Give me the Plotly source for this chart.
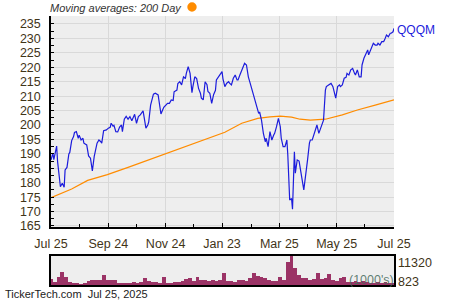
import plotly.graph_objects as go
import pandas as pd

price_dates = [
"2024-07-25","2024-07-27","2024-07-28","2024-07-31","2024-08-01","2024-08-04","2024-08-06","2024-08-08","2024-08-09","2024-08-11",
"2024-08-13","2024-08-14","2024-08-16","2024-08-18","2024-08-19","2024-08-21","2024-08-23","2024-08-24","2024-08-26","2024-08-28",
"2024-08-29","2024-09-01","2024-09-03","2024-09-05","2024-09-07","2024-09-09","2024-09-12","2024-09-14","2024-09-16","2024-09-17",
"2024-09-19","2024-09-22","2024-09-24","2024-09-26","2024-09-27","2024-09-29","2024-09-30","2024-10-02","2024-10-04","2024-10-06",
"2024-10-08","2024-10-09","2024-10-11","2024-10-13","2024-10-15","2024-10-17","2024-10-19","2024-10-21","2024-10-22","2024-10-24",
"2024-10-26","2024-10-28","2024-10-30","2024-10-31","2024-11-03","2024-11-05","2024-11-06","2024-11-08","2024-11-11","2024-11-13",
"2024-11-16","2024-11-17","2024-11-19","2024-11-22","2024-11-24","2024-11-26","2024-11-28","2024-11-30","2024-12-02","2024-12-03",
"2024-12-06","2024-12-07","2024-12-09","2024-12-11","2024-12-13","2024-12-15","2024-12-16","2024-12-18","2024-12-20","2024-12-22",
"2024-12-23","2024-12-25","2024-12-27","2024-12-29","2024-12-31","2025-01-01","2025-01-03","2025-01-05","2025-01-07","2025-01-08",
"2025-01-10","2025-01-12","2025-01-14","2025-01-16","2025-01-17","2025-01-19","2025-01-21","2025-01-23","2025-01-24","2025-01-26",
"2025-01-28","2025-01-30","2025-01-31","2025-02-02","2025-02-04","2025-02-06","2025-02-08","2025-02-09","2025-02-11","2025-02-13",
"2025-02-15","2025-02-16","2025-02-18","2025-02-20","2025-02-22","2025-02-24","2025-02-25","2025-02-27","2025-03-01","2025-03-03",
"2025-03-04","2025-03-06","2025-03-08","2025-03-10","2025-03-11","2025-03-13","2025-03-15","2025-03-17","2025-03-19","2025-03-20",
"2025-03-22","2025-03-24","2025-03-26","2025-03-27","2025-03-29","2025-03-31","2025-04-02","2025-04-03","2025-04-05","2025-04-07",
"2025-04-08","2025-04-10","2025-04-11","2025-04-13","2025-04-15","2025-04-17","2025-04-18","2025-04-20","2025-04-22","2025-04-24",
"2025-04-26","2025-04-27","2025-04-29","2025-05-01","2025-05-03","2025-05-04","2025-05-06","2025-05-08","2025-05-10","2025-05-11",
"2025-05-13","2025-05-14","2025-05-16","2025-05-19","2025-05-21","2025-05-22","2025-05-24","2025-05-26","2025-05-28","2025-05-29",
"2025-05-31","2025-06-02","2025-06-04","2025-06-05","2025-06-07","2025-06-09","2025-06-11","2025-06-13","2025-06-14","2025-06-16",
"2025-06-18","2025-06-20","2025-06-21","2025-06-23","2025-06-25","2025-06-27","2025-06-28","2025-07-01","2025-07-03","2025-07-05",
"2025-07-07","2025-07-08","2025-07-10","2025-07-12","2025-07-14","2025-07-15","2025-07-17","2025-07-19","2025-07-21","2025-07-22",
"2025-07-24","2025-07-25"]

price_vals = [
187.9,190.2,188.0,192.7,187.3,178.6,179.8,178.4,184.4,185.3,
190.0,190.5,194.6,196.0,197.4,197.7,195.4,196.5,194.8,195.4,
193.7,193.1,189.3,188.5,184.1,189.1,193.7,194.8,194.2,193.7,
198.0,198.3,198.9,199.2,200.6,199.6,199.9,197.7,197.6,199.3,
200.0,197.7,202.0,203.0,202.0,202.9,201.5,203.5,203.7,200.6,
202.9,203.5,204.3,204.9,198.9,200.0,201.1,206.9,210.7,211.0,
210.4,207.5,203.8,206.1,206.9,207.5,207.5,208.7,208.5,211.5,
212.1,214.4,215.0,213.9,216.7,216.1,217.9,220.2,217.9,211.2,
213.3,216.7,216.1,212.7,211.0,209.3,208.7,215.0,214.0,211.6,
211.0,207.5,210.5,212.0,215.6,216.7,217.9,218.5,216.0,213.3,
214.5,215.0,214.5,213.9,216.2,217.3,215.6,215.6,217.3,219.1,
221.1,221.4,220.8,216.7,214.4,212.1,210.4,208.7,206.5,204.0,
204.5,201.7,197.1,194.2,195.4,192.5,197.7,194.8,196.5,197.1,
199.4,202.3,199.4,195.4,192.5,192.5,194.8,189.6,174.0,174.5,
170.8,190.7,183.3,187.9,187.5,182.1,181.5,177.5,182.1,187.9,
193.7,194.8,194.8,197.1,199.4,200.0,197.1,198.9,200.6,201.7,
212.1,213.3,213.8,214.4,213.3,211.6,209.3,213.3,213.9,213.3,
213.9,216.2,216.5,217.9,217.3,219.1,219.6,217.9,217.3,219.1,
216.7,216.7,220.8,223.1,224.8,226.0,224.3,226.6,228.3,227.7,
227.7,228.3,227.7,228.9,228.9,229.5,231.2,230.6,231.8,231.8,
232.3,233.5]

ma_dates = ["2024-07-25","2024-08-09","2024-08-16","2024-09-02","2024-09-23","2024-10-15","2024-11-25",
            "2024-12-31","2025-01-26","2025-02-13","2025-03-02","2025-03-15","2025-03-26","2025-04-07",
            "2025-04-16","2025-04-27","2025-05-13","2025-05-31","2025-06-16","2025-07-05","2025-07-25"]
ma_vals = [174.8,177.0,177.8,180.8,182.8,185.3,190.2,194.5,197.5,200.6,202.3,202.8,203.1,202.7,
           202.0,201.7,202.0,203.5,205.2,206.9,208.7]

vol_dates = pd.date_range("2024-07-25", "2025-07-25", freq="4D")
vol_vals = [3000,1800,3600,5500,3800,1800,1700,1500,1300,1400,
            2200,2800,2700,2600,4300,2700,2600,2500,1700,1500,
            1700,1600,1900,1700,2000,3400,2200,1900,1800,1600,
            3900,1700,1400,1800,2000,2400,3000,3400,2200,3900,
            2800,2600,2400,2500,2100,2600,5000,2300,2200,2000,
            2500,2700,2400,3200,5300,4000,3800,3500,2600,2300,
            2100,3900,2800,9200,11320,6800,4500,3500,3200,2800,
            3000,5000,3000,3200,4700,2600,2400,3500,3900,2000,
            1900,2400,2000,2200,1800,1700,1500,1900,1600,1800,
            1500,1400]
vol_vals = vol_vals[:len(vol_dates)]
vol_max_label = "11320"
vol_min_label = "823"

x_tickvals = ["2024-07-25","2024-09-24","2024-11-24","2025-01-23","2025-03-25","2025-05-25","2025-07-25"]
x_ticktext = ["Jul 25","Sep 24","Nov 24","Jan 23","Mar 25","May 25","Jul 25"]
x_minor = ["2024-08-24","2024-10-24","2024-12-24","2025-02-23","2025-04-24","2025-06-24"]
y_ticks = list(range(165, 240, 5))

FONT = "Liberation Sans, Arial, sans-serif"
LABEL = "#3f3418"
W, H = 450, 300

fig = go.Figure()
fig.add_trace(go.Scatter(x=ma_dates, y=ma_vals, mode="lines", line=dict(color="#ff8c00", width=1.2),
                         xaxis="x", yaxis="y", hoverinfo="skip"))
fig.add_trace(go.Scatter(x=price_dates, y=price_vals, mode="lines", line=dict(color="#1c1cdc", width=1.2),
                         xaxis="x", yaxis="y", hoverinfo="skip"))
fig.add_trace(go.Bar(x=vol_dates, y=vol_vals, marker=dict(color="#9b3366", line=dict(width=0)),
                     xaxis="x2", yaxis="y2", hoverinfo="skip"))

xr = ["2024-07-25", "2025-07-25"]
fig.update_layout(
    width=W, height=H, autosize=False,
    margin=dict(l=0, r=0, t=0, b=0, pad=0),
    paper_bgcolor="white", plot_bgcolor="#eeeeee",
    showlegend=False, bargap=0,
    font=dict(family=FONT, color=LABEL, size=12),
    xaxis=dict(domain=[51/W, 394/W], range=xr, type="date", automargin=False,
               tickmode="array", tickvals=x_tickvals, ticktext=x_ticktext,
               ticks="inside", ticklen=4, tickcolor="black", tickwidth=1,
               showgrid=True, gridcolor="#d9d9d9", gridwidth=1,
               showline=True, linecolor="black", linewidth=1.5, mirror=False,
               zeroline=False, tickfont=dict(size=12.5, color=LABEL), ticklabelstandoff=4,
               minor=dict(tickmode="array", tickvals=x_minor, ticks="inside", ticklen=3,
                          tickcolor="black", showgrid=False),
               anchor="y"),
    yaxis=dict(domain=[1-227/H, 1-16/H], range=[164.65, 237.77], automargin=False,
               tickmode="array", tickvals=y_ticks,
               ticks="inside", ticklen=3, tickcolor="black",
               showgrid=True, gridcolor="#d9d9d9", gridwidth=1,
               showline=True, linecolor="black", linewidth=1.5,
               zeroline=False, tickfont=dict(size=12.5, color=LABEL), ticklabelstandoff=6,
               minor=dict(dtick=2.5, tick0=165, ticks="inside", ticklen=3, tickcolor="black", showgrid=False),
               anchor="x"),
    xaxis2=dict(domain=[51/W, 394/W], range=xr, type="date", matches="x", automargin=False,
                showticklabels=False, ticks="", showgrid=False,
                showline=True, linecolor="black", linewidth=1.5, mirror=True, zeroline=False,
                anchor="y2"),
    yaxis2=dict(domain=[1-285/H, 1-256/H], range=[823, 11320], automargin=False,
                showticklabels=False, ticks="", showgrid=False,
                showline=True, linecolor="black", linewidth=1.5, mirror=True, zeroline=False,
                anchor="x2"),
)

def ann(text, x, y, size, color, xanchor="left", italic=False):
    fig.add_annotation(text=f"<i>{text}</i>" if italic else text,
                       x=x/W, y=1-y/H, xref="paper", yref="paper",
                       xanchor=xanchor, yanchor="middle", showarrow=False, borderpad=0,
                       font=dict(family=FONT, size=size, color=color))

ann("Moving averages: 200 Day", 49, 8, 11, "#333333", italic=True)
fig.add_shape(type="circle", xref="paper", yref="paper",
              x0=187.3/W, x1=196.7/W, y0=1-11.7/H, y1=1-2.3/H,
              fillcolor="#ff8c00", line=dict(width=0))
ann("QQQM", 396, 30, 12, "#1c1cdc")
ann(vol_max_label, 397, 263, 12.5, LABEL)
ann(vol_min_label, 397, 282, 12.5, LABEL)
ann("(1000's)", 348, 280, 12.5, "rgba(70,105,90,0.85)")
ann("TickerTech.com&nbsp;&nbsp;Jul 25, 2025", 4, 294, 11, "#222222")

fig.write_html("out.html")
